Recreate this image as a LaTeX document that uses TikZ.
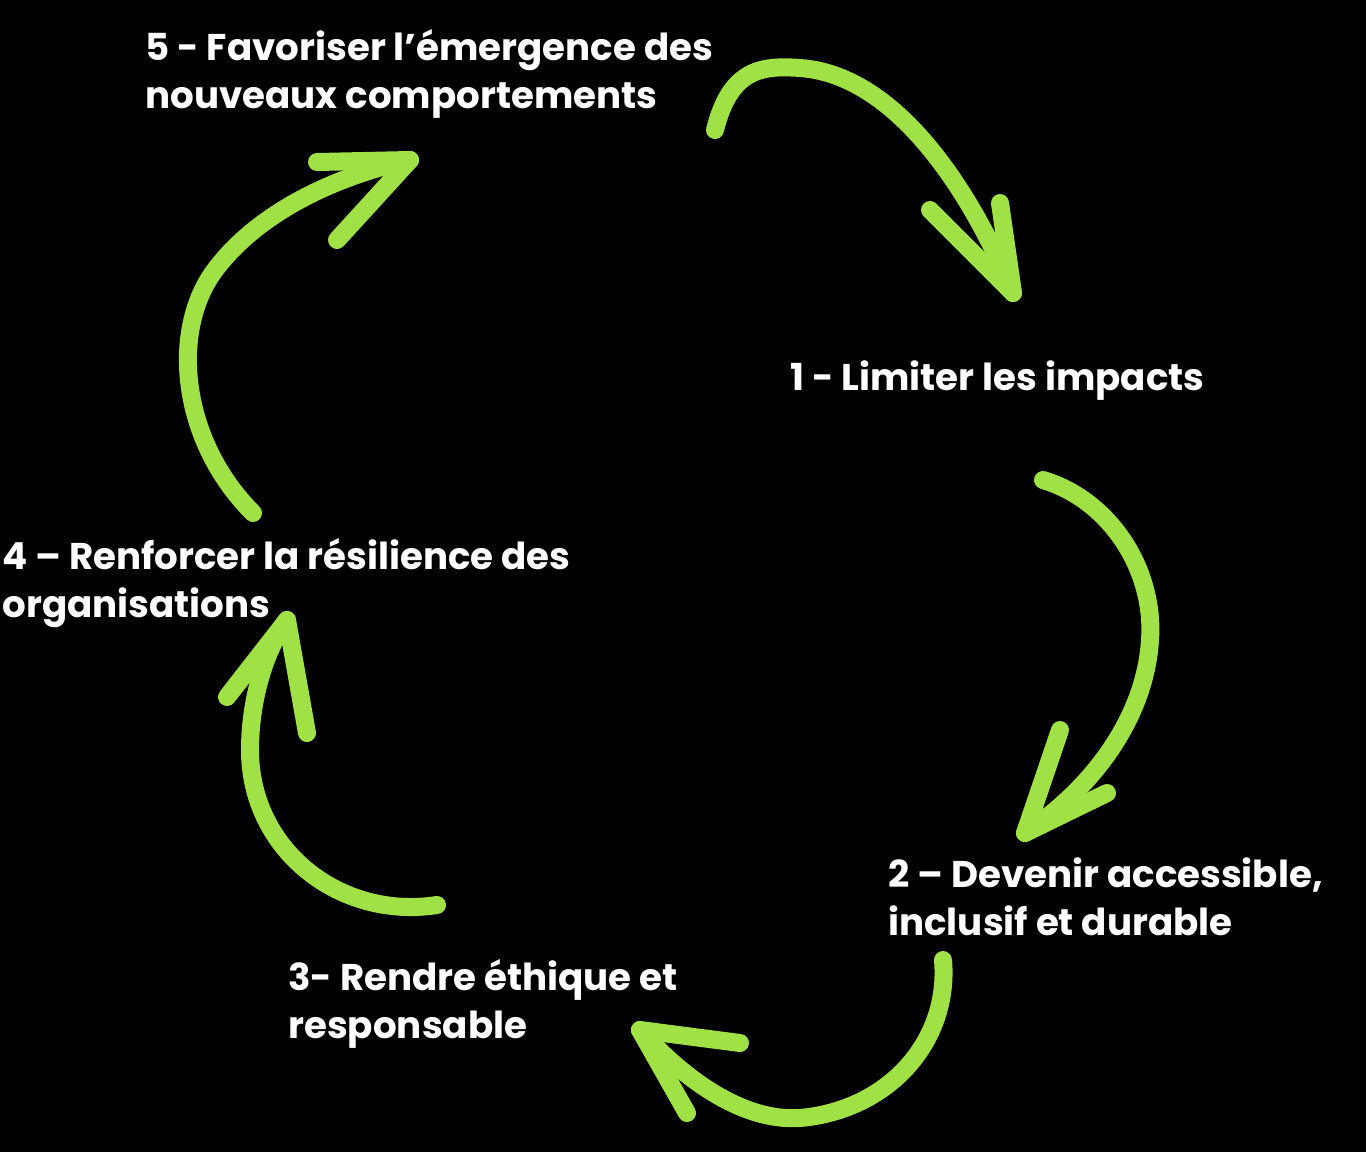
\documentclass[tikz,border=0pt]{standalone}
\usepackage{fontspec}
\setmainfont{Poppins}
\definecolor{leaf}{RGB}{160,226,69}

\begin{document}
\begin{tikzpicture}[x=0.5pt, y=-0.5pt,
  stage/.style={anchor=base west, inner sep=0pt, align=left, text=white, font=\bfseries\fontsize{18.6}{24}\selectfont},
  curl/.style={draw=leaf, line width=9pt, line cap=round, line join=round}]
\fill[black] (0,0) rectangle (1366,1152);
\useasboundingbox (0,0) rectangle (1366,1152);

\node[stage] (s-5) at (145,108) {5 - Favoriser l'émergence des\\nouveaux comportements};
\node[stage] (s-1) at (790,390) {1 - Limiter les impacts};
\node[stage] (s-2) at (888,935) {2 – Devenir accessible,\\inclusif et durable};
\node[stage] (s-3) at (288,1038) {3- Rendre éthique et\\responsable};
\node[stage] (s-4) at (2,617) {4 – Renforcer la résilience des\\organisations};

\coordinate (t-5) at (715,130);
\coordinate (h-1) at (1013,293);
\coordinate (t-1) at (1043,480);
\coordinate (h-2) at (1025,833);
\coordinate (t-2) at (943,960);
\coordinate (h-3) at (640,1030);
\coordinate (t-3) at (437,905);
\coordinate (h-4) at (287,620);
\coordinate (t-4) at (253,513);
\coordinate (h-5) at (410,160);

\draw[curl] (t-5) .. controls (730,70) and (760,65) .. (800,68) .. controls (900,75) and (975,200) .. (h-1);
\draw[curl] (930,210) -- (h-1) -- (1000,203);
\draw[curl] (t-1) .. controls (1110,500) and (1155,570) .. (1150,640) .. controls (1145,720) and (1090,790) .. (h-2);
\draw[curl] (1060,730) -- (h-2) -- (1107,793);
\draw[curl] (t-2) .. controls (950,1040) and (890,1110) .. (800,1118) .. controls (740,1122) and (680,1075) .. (h-3);
\draw[curl] (740,1043) -- (h-3) -- (687,1113);
\draw[curl] (t-3) .. controls (340,920) and (250,850) .. (250,750) .. controls (250,700) and (265,650) .. (h-4);
\draw[curl] (227,697) -- (h-4) -- (307,733);
\draw[curl] (t-4) .. controls (180,440) and (170,330) .. (215,270) .. controls (260,210) and (340,175) .. (h-5);
\draw[curl] (317,162) -- (h-5) -- (337,240);
\end{tikzpicture}
\end{document}
